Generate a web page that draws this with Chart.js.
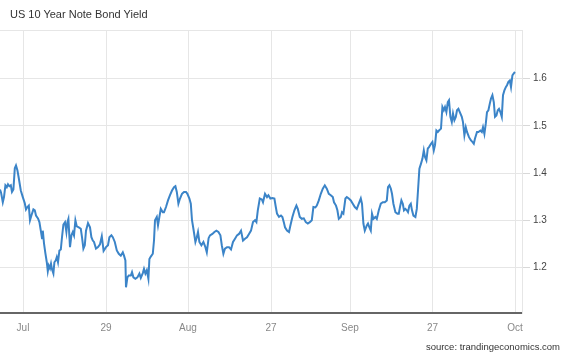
<!DOCTYPE html>
<html>
<head>
<meta charset="utf-8">
<script src="https://cdn.jsdelivr.net/npm/chart.js@4"></script>
<style>
  html, body { margin: 0; padding: 0; background: #ffffff; }
  #wrap { position: relative; width: 567px; height: 356px; overflow: hidden; }
  #title { position: absolute; left: 10px; top: 8px; font: 11px "Liberation Sans", Arial, sans-serif; color: #333; white-space: nowrap; }
  #source { position: absolute; right: 7px; top: 341px; font: 9.5px "Liberation Sans", Arial, sans-serif; color: #333; white-space: nowrap; }
  canvas { position: absolute; left: 0; top: 0; }
</style>
</head>
<body>
<div id="wrap">
  <canvas id="c" width="567" height="356"></canvas>
  <div id="title">US 10 Year Note Bond Yield</div>
  <div id="source">source: trandingeconomics.com</div>
</div>
<script>
// time position (trading periods) of each reading
const t = [
0.0,0.5,1.4,2.0,2.7,3.4,4.0,4.7,5.4,6.0,6.7,7.4,8.0,8.7,9.4,10.4,11.4,12.4,13.0,13.7,
14.4,15.0,15.7,16.7,17.4,18.0,19.0,19.7,20.4,21.0,21.4,22.0,22.7,23.4,23.9,24.4,25.0,25.5,26.0,26.7,
27.2,27.9,28.4,29.0,29.7,30.4,31.0,31.7,32.5,33.2,33.7,34.2,35.0,35.7,36.4,37.0,37.7,38.4,39.4,40.4,
41.0,41.7,42.4,43.0,44.0,45.0,45.7,46.4,47.0,48.0,49.0,50.0,50.9,51.8,53.0,54.0,54.7,55.7,56.4,57.4,
58.4,59.4,60.4,61.4,62.0,62.7,63.0,63.7,64.4,65.4,66.0,66.7,67.7,68.7,69.7,70.4,71.4,72.0,72.7,73.4,
74.2,74.7,75.4,76.4,77.0,77.5,78.4,79.0,79.7,80.4,81.4,82.0,83.0,84.0,85.0,86.0,87.0,87.7,88.4,89.2,
90.0,91.0,92.0,93.0,93.7,94.7,95.4,96.0,96.7,97.7,98.4,99.0,99.7,100.7,101.7,102.7,103.4,104.3,105.0,106.2,
107.2,108.2,109.2,110.2,110.9,111.7,112.5,113.5,114.5,115.5,116.5,117.5,118.5,119.5,120.5,121.5,122.5,123.5,124.5,125.5,
126.5,127.5,128.2,128.9,129.9,130.9,131.5,132.5,133.5,134.2,135.2,136.2,137.2,137.9,138.5,139.5,140.5,141.2,141.9,142.5,
143.5,144.5,145.2,146.2,147.2,148.2,148.9,149.9,150.9,151.9,152.9,153.9,154.9,155.9,156.7,157.7,158.4,159.4,160.4,161.4,
162.4,163.4,164.4,165.4,166.4,167.0,168.0,168.7,169.4,170.4,171.0,171.7,172.7,173.4,174.4,175.4,176.4,177.4,178.4,179.4,
180.4,181.0,181.7,182.4,183.4,184.0,184.7,185.4,186.0,186.7,187.7,188.4,189.4,190.4,191.4,192.4,193.4,194.0,194.7,195.4,
196.0,196.7,197.7,198.7,199.4,200.0,200.7,201.4,202.0,202.7,203.4,204.0,204.7,205.4,206.0,206.7,207.7,208.4,209.0,209.7,
210.5,211.2,211.9,212.5,213.2,213.9,214.5,215.5,216.2,216.9,217.5,218.2,218.9,219.5,220.5,221.2,221.9,222.5,223.2,223.9,
224.5,225.2,225.9,226.5,227.2,227.9,228.5,229.2,229.9,230.9,231.5,232.2,232.9,233.5,234.5,235.5,236.2,236.9,237.5,238.5,
239.2,240.2,240.9,241.5,242.2,242.9,243.5,244.2,244.9,245.5,246.2,246.9,247.5,248.2,248.9,249.5,250.2,250.9,251.5,252.2,
252.9,253.5,254.2,254.9,255.5,256.2,256.9,257.5
];
// US 10Y yield, percent
const yieldPct = [
1.365,1.359,1.338,1.349,1.374,1.370,1.376,1.372,1.374,1.360,1.365,1.410,1.416,1.406,1.389,1.363,1.349,1.336,1.323,1.328,
1.331,1.300,1.310,1.323,1.321,1.310,1.304,1.296,1.278,1.262,1.278,1.251,1.230,1.211,1.192,1.204,1.198,1.208,1.196,1.187,
1.211,1.215,1.222,1.211,1.236,1.238,1.264,1.291,1.296,1.275,1.296,1.303,1.243,1.268,1.275,1.268,1.300,1.287,1.285,1.282,
1.264,1.240,1.247,1.278,1.294,1.285,1.264,1.257,1.254,1.240,1.243,1.249,1.266,1.235,1.243,1.247,1.264,1.268,1.264,1.254,
1.236,1.229,1.225,1.232,1.225,1.215,1.158,1.179,1.183,1.183,1.190,1.179,1.176,1.179,1.187,1.178,1.188,1.197,1.187,1.194,
1.176,1.218,1.223,1.229,1.257,1.300,1.307,1.289,1.307,1.324,1.317,1.317,1.328,1.342,1.353,1.363,1.370,1.372,1.360,1.335,
1.346,1.356,1.360,1.360,1.356,1.346,1.335,1.300,1.282,1.254,1.264,1.275,1.254,1.247,1.254,1.243,1.232,1.262,1.268,1.271,
1.275,1.278,1.275,1.268,1.247,1.229,1.240,1.243,1.243,1.238,1.254,1.261,1.268,1.271,1.278,1.257,1.261,1.264,1.271,1.278,
1.296,1.300,1.296,1.321,1.346,1.344,1.338,1.356,1.349,1.353,1.346,1.347,1.346,1.328,1.314,1.307,1.310,1.307,1.296,1.285,
1.278,1.275,1.289,1.307,1.321,1.331,1.324,1.307,1.303,1.304,1.296,1.293,1.296,1.300,1.328,1.327,1.331,1.342,1.356,1.367,
1.374,1.367,1.356,1.353,1.349,1.338,1.331,1.321,1.303,1.307,1.317,1.314,1.346,1.349,1.346,1.342,1.335,1.328,1.324,1.335,
1.346,1.335,1.293,1.278,1.289,1.293,1.285,1.278,1.314,1.303,1.307,1.303,1.321,1.335,1.338,1.338,1.342,1.370,1.374,1.367,
1.356,1.335,1.317,1.314,1.314,1.328,1.342,1.335,1.321,1.324,1.321,1.317,1.331,1.335,1.321,1.310,1.307,1.324,1.363,1.409,
1.420,1.430,1.448,1.434,1.427,1.452,1.455,1.462,1.466,1.448,1.459,1.490,1.487,1.490,1.494,1.540,1.533,1.540,1.529,1.550,
1.554,1.519,1.508,1.526,1.512,1.519,1.533,1.536,1.529,1.519,1.508,1.480,1.497,1.487,1.476,1.469,1.466,1.462,1.473,1.487,
1.487,1.490,1.487,1.497,1.483,1.505,1.529,1.533,1.547,1.558,1.565,1.550,1.519,1.522,1.533,1.536,1.529,1.519,1.565,1.575,
1.582,1.586,1.593,1.596,1.582,1.607,1.611,1.614
];
const xTickPos = [11.5, 53, 94, 135.5, 175, 216.3, 257.5];
const xTickLabels = ['Jul', '29', 'Aug', '27', 'Sep', '27', 'Oct'];
const yTickVals = [1.2, 1.3, 1.4, 1.5, 1.6];

const points = t.map((x, i) => ({ x: x, y: yieldPct[i] }));

Chart.defaults.font.family = '"Liberation Sans", Arial, sans-serif';
Chart.defaults.font.size = 10;

const topLine = {
  id: 'topLine',
  afterDraw(chart) {
    const a = chart.chartArea, ctx = chart.ctx;
    ctx.save();
    ctx.strokeStyle = '#e6e6e6';
    ctx.lineWidth = 1;
    ctx.beginPath();
    ctx.moveTo(0, a.top + 0.5);
    ctx.lineTo(a.right, a.top + 0.5);
    ctx.stroke();
    ctx.restore();
  }
};

new Chart(document.getElementById('c'), {
  type: 'line',
  data: {
    datasets: [{
      data: points,
      borderColor: '#3b84c8',
      borderWidth: 2,
      pointRadius: 0,
      tension: 0,
      fill: false
    }]
  },
  options: {
    responsive: false,
    animation: false,
    devicePixelRatio: 1,
    layout: { padding: { top: 30, left: 0, right: 0, bottom: 0 } },
    plugins: { legend: { display: false }, tooltip: { enabled: false } },
    scales: {
      x: {
        type: 'linear',
        min: 0,
        max: 261,
        afterBuildTicks: ax => { ax.ticks = xTickPos.map(v => ({ value: v })); },
        afterFit: s => { s.height = 43; },
        grid: { color: '#e6e6e6', lineWidth: 1, drawTicks: false },
        border: { display: true, color: '#666666', width: 2 },
        ticks: {
          autoSkip: false, maxRotation: 0, padding: 9, color: '#888888',
          callback: (v, i) => xTickLabels[i]
        }
      },
      y: {
        type: 'linear',
        position: 'right',
        min: 1.1035,
        max: 1.703,
        afterBuildTicks: ax => { ax.ticks = yTickVals.map(v => ({ value: v })); },
        afterFit: s => { s.width = 45; },
        grid: { color: '#e6e6e6', lineWidth: 1, drawTicks: true, tickLength: 8, tickColor: '#d8d8d8' },
        border: { display: true, color: '#e6e6e6', width: 1 },
        ticks: { padding: 3, color: '#444444', callback: v => v.toFixed(1) }
      }
    }
  },
  plugins: [topLine]
});
</script>
</body>
</html>
